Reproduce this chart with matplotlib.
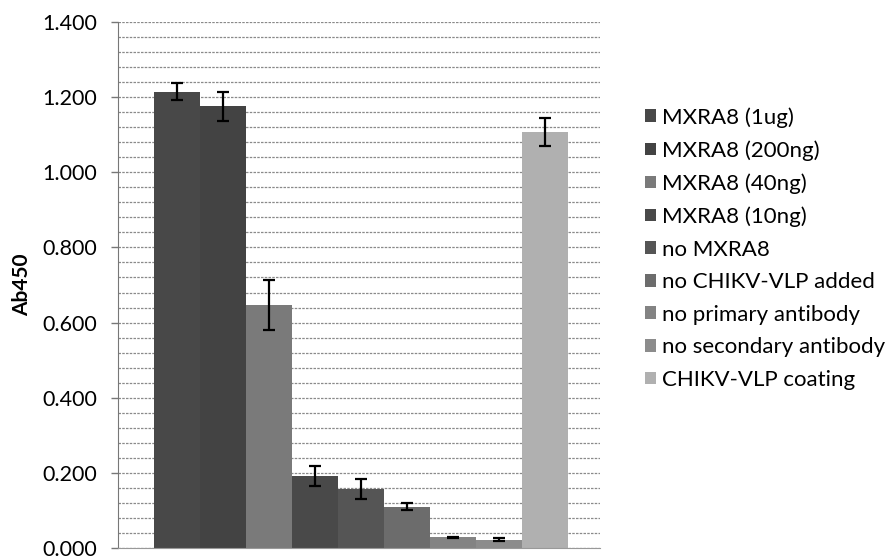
import numpy as np
import matplotlib.pyplot as plt
from matplotlib.patches import Patch
from matplotlib.ticker import MultipleLocator, FormatStrFormatter

plt.rcParams['font.family'] = ['Lato', 'DejaVu Sans']

# ELISA readout, one bar per condition
conditions = [
    'MXRA8 (1ug)',
    'MXRA8 (200ng)',
    'MXRA8 (40ng)',
    'MXRA8 (10ng)',
    'no MXRA8',
    'no CHIKV-VLP added',
    'no primary antibody',
    'no secondary antibody',
    'CHIKV-VLP coating',
]
ab450 = [1.215, 1.176, 0.647, 0.191, 0.157, 0.110, 0.028, 0.022, 1.108]
errors = [0.022, 0.039, 0.066, 0.027, 0.027, 0.010, 0.002, 0.004, 0.037]
colors = ['#484848', '#434343', '#7a7a7a', '#494949', '#555555',
          '#6c6c6c', '#838383', '#8c8c8c', '#b0b0b0']

fig = plt.figure(figsize=(8.88, 5.58), dpi=100)
ax = fig.add_axes([118 / 888, 1 - 548 / 558, (600 - 118) / 888, (548 - 22) / 558])

x = np.arange(len(ab450))
ax.bar(x, ab450, width=1.0, color=colors, zorder=2)
ax.errorbar(x, ab450, yerr=errors, fmt='none', ecolor='black',
            elinewidth=1.6, capsize=4.5, capthick=1.6, zorder=3)

ax.set_xlim(-0.5 - 0.78, len(ab450) - 0.5 + 0.7)
ax.set_ylim(0, 1.4)
ax.yaxis.set_major_locator(MultipleLocator(0.2))
ax.yaxis.set_minor_locator(MultipleLocator(0.04))
ax.yaxis.set_major_formatter(FormatStrFormatter('%.3f'))
ax.grid(axis='y', which='both', color='#8a8a8a', linestyle=(0, (2, 1)), linewidth=0.9, zorder=0)
ax.set_axisbelow(True)

ax.set_xticks([])
ax.tick_params(axis='y', which='major', direction='out', length=5, width=1,
               color='#777777', labelsize=15.5, pad=10)
ax.tick_params(axis='y', which='minor', length=0)
for side in ['top', 'right']:
    ax.spines[side].set_visible(False)
ax.spines['left'].set_color('#777777')
ax.spines['bottom'].set_color('#999999')

ax.set_ylabel('Ab450', fontsize=15, fontweight='bold', labelpad=7)

handles = [Patch(facecolor=c, edgecolor='none') for c in colors]
fig.legend(handles, conditions, loc='upper left', bbox_to_anchor=(645 / 888, 1 - 107 / 558),
           frameon=False, fontsize=16, handlelength=0.5, handleheight=0.5,
           handletextpad=0.25, labelspacing=0.565, borderpad=0, borderaxespad=0)

plt.savefig('out.png', dpi=100)
